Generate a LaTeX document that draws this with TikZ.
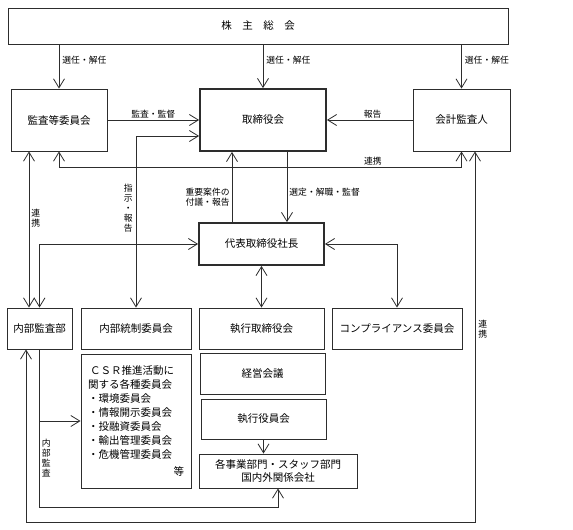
\documentclass[tikz,border=0pt]{standalone}
\usepackage{fontspec}
\setmainfont{Noto Sans CJK JP}
\usetikzlibrary{arrows.meta}
\definecolor{orgline}{RGB}{45,45,45}

\begin{document}
\begin{tikzpicture}[x=1pt,y=-1pt,
    box/.style={draw=orgline, line width=0.9pt, inner sep=1pt, font=\fontsize{10.5}{13}\selectfont},
    mainbox/.style={box, line width=1.8pt},
    lbl/.style={font=\fontsize{8.8}{10}\selectfont, inner sep=1pt},
    vlbl/.style={lbl, align=center},
    link/.style={draw=orgline, line width=0.8pt, >={Straight Barb[length=9pt,width=11pt]}}
]
    \useasboundingbox (0,0) rectangle (573,530);

    % Gremien oben
    \node[box, minimum width=500pt, minimum height=36pt] (agm) at (258,26) {株　主　総　会};
    \node[box, minimum width=96pt, minimum height=62pt] (audit) at (59,120) {監査等委員会};
    \node[mainbox, minimum width=126pt, minimum height=62pt] (board) at (263,120) {取締役会};
    \node[box, minimum width=97pt, minimum height=62pt] (auditor) at (461.5,120) {会計監査人};
    \node[mainbox, minimum width=125pt, minimum height=42pt] (pres) at (261.5,244) {代表取締役社長};

    % untere Reihe
    \node[box, minimum width=65pt, minimum height=41pt] (intaudit) at (39.5,328.5) {内部監査部};
    \node[box, minimum width=110pt, minimum height=41pt] (intctl) at (136,328.5) {内部統制委員会};
    \node[box, minimum width=125pt, minimum height=41pt] (execbd) at (261.5,328.5) {執行取締役会};
    \node[box, minimum width=130pt, minimum height=41pt] (compl) at (397,328.5) {コンプライアンス委員会};
    \node[box, text width=96pt, inner xsep=7pt, minimum height=134pt, align=left, font=\fontsize{10.5}{14}\selectfont] (csr) at (136,421)
        {\hspace{2pt}ＣＳＲ推進活動に\\関する各種委員会\\・環境委員会\\・情報開示委員会\\・投融資委員会\\・輸出管理委員会\\・危機管理委員会\\[3pt]\mbox{}\hfill 等\hspace{4pt}};
    \node[box, minimum width=125pt, minimum height=41pt] (mgmt) at (262.5,373.5) {経営会議};
    \node[box, minimum width=125pt, minimum height=40pt] (officers) at (263.5,419) {執行役員会};
    \node[box, minimum width=158pt, minimum height=34pt, align=center] (depts) at (278,471) {各事業部門・スタッフ部門\\国内外関係会社};

    \coordinate (linkrow) at (0,167);
    \coordinate (auditrow) at (0,507);
    \coordinate (outerrow) at (0,522);

    % Verbindungen
    \draw[link,->] (agm.south -| audit) -- node[lbl, pos=0.35, anchor=west, xshift=2pt] {選任・解任} (audit.north);
    \draw[link,->] (agm.south -| board) -- node[lbl, pos=0.35, anchor=west, xshift=2pt] {選任・解任} (board.north);
    \draw[link,->] (agm.south -| auditor) -- node[lbl, pos=0.35, anchor=west, xshift=2pt] {選任・解任} (auditor.north);
    \draw[link,->] (audit) -- node[lbl, above] {監査・監督} (board);
    \draw[link,->] (auditor) -- node[lbl, above, xshift=3pt] {報告} (board);
    \draw[link,<->] (audit.south) -- (audit.south |- linkrow) -- node[lbl, pos=0.78, above] {連携} (auditor.south |- linkrow) -- (auditor.south);
    \draw[link,->] ([xshift=24pt]board.south) -- node[lbl, pos=0.58, anchor=west, xshift=1pt] {選定・解職・監督} ([xshift=24pt]board.south |- pres.north);
    \draw[link,->] ([xshift=-29.5pt]pres.north) -- node[lbl, pos=0.35, anchor=east, align=center, xshift=-1pt] {重要案件の\\付議・報告} ([xshift=-29.5pt]pres.north |- board.south);
    \draw[link,<->] ([yshift=-16pt]board.west) -| node[vlbl, pos=0.71, anchor=east, xshift=-2pt] {指\\示\\・\\報\\告} (intctl.north);
    \draw[link,<->] ([xshift=-30pt]audit.south) -- node[vlbl, pos=0.43, anchor=west, xshift=1pt] {連\\携} ([xshift=-30pt]audit.south |- intaudit.north);
    \draw[link,<->] (intaudit.north) |- (pres.west);
    \draw[link,<->] (pres.east) -| (compl.north);
    \draw[link,<->] (pres) -- (execbd);
    \draw[link,->] (officers.south) -- (officers.south |- depts.north);
    \draw[link,->] (intaudit.south) |- (csr.west);
    \draw[link,->] (intaudit.south) -- node[vlbl, pos=0.69, anchor=west, xshift=1pt] {内\\部\\監\\査} (intaudit.south |- auditrow) -| (depts.south);
    \draw[link,<->] ([xshift=-13.5pt]intaudit.south) -- ([xshift=-13.5pt]intaudit.south |- outerrow) -| node[vlbl, pos=0.76, anchor=west, xshift=2pt] {連\\携} ([xshift=13.5pt]auditor.south);
\end{tikzpicture}
\end{document}
